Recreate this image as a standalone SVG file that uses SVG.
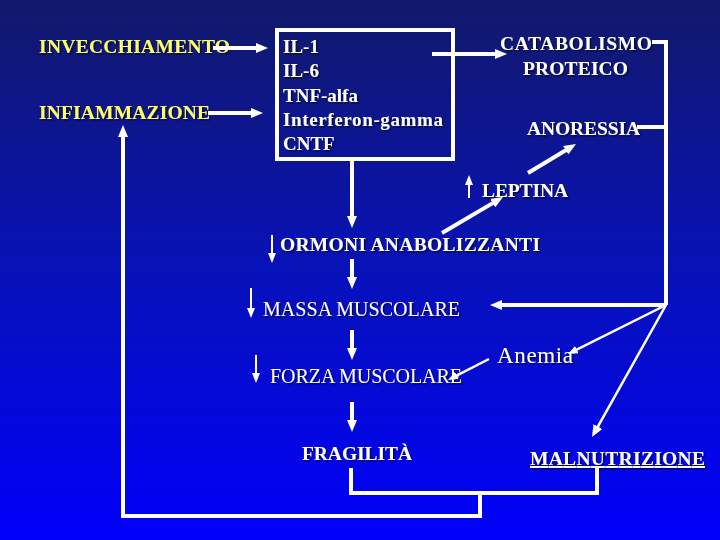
<svg xmlns="http://www.w3.org/2000/svg" width="720" height="540" viewBox="0 0 720 540">
<defs>
<linearGradient id="bg" x1="0" y1="0" x2="0" y2="1">
<stop offset="0" stop-color="#12196a"/>
<stop offset="0.5" stop-color="#0812b8"/>
<stop offset="1" stop-color="#0000fa"/>
</linearGradient>
<filter id="sh" x="-5%" y="-20%" width="110%" height="150%">
<feDropShadow dx="1.5" dy="1.5" stdDeviation="0.4" flood-color="#000" flood-opacity="0.55"/>
</filter>
<marker id="a" viewBox="0 0 12 10" refX="2" refY="5" markerWidth="12" markerHeight="10" orient="auto" markerUnits="userSpaceOnUse">
<path d="M0,0 L12,5 L0,10 z" fill="#fff"/>
</marker>
<marker id="b" viewBox="0 0 10 8" refX="2" refY="4" markerWidth="10" markerHeight="8" orient="auto" markerUnits="userSpaceOnUse">
<path d="M0,0 L10,4 L0,8 z" fill="#fff"/>
</marker>
</defs>
<style>
text{font-family:"Liberation Serif","Times New Roman",serif;fill:#fff;filter:url(#sh)}
.b{font-weight:bold;font-size:19.5px}
.r{font-size:20px}
.x{font-weight:bold;font-size:19px}
.y{fill:#ffff66}
.m{stroke:#fff;stroke-width:4;fill:none}
.t{stroke:#fff;stroke-width:2;fill:none}
.d{stroke:#fff;stroke-width:2.5;fill:none}
</style>
<rect width="720" height="540" fill="url(#bg)"/>
<g id="invecchiamento"><text class="b y" x="39" y="53" textLength="191">INVECCHIAMENTO</text></g>
<g id="infiammazione"><text class="b y" x="39" y="119" textLength="171">INFIAMMAZIONE</text></g>
<g id="citochine">
<rect x="277" y="30" width="176" height="129" fill="none" stroke="#fff" stroke-width="4"/>
<text class="x" x="283" y="53">IL-1</text>
<text class="x" x="283" y="77">IL-6</text>
<text class="x" x="283" y="101.5">TNF-alfa</text>
<text class="x" x="283" y="125.5" textLength="160">Interferon-gamma</text>
<text class="x" x="283" y="150">CNTF</text>
</g>
<g id="catabolismo">
<text class="b" x="500" y="50" textLength="152">CATABOLISMO</text>
<text class="b" x="523" y="75" textLength="105">PROTEICO</text>
</g>
<g id="anoressia"><text class="b" x="527" y="135" textLength="113">ANORESSIA</text></g>
<g id="leptina"><text class="b" x="482" y="197" textLength="86">LEPTINA</text></g>
<g id="ormoni"><text class="b" x="280" y="251" textLength="260">ORMONI ANABOLIZZANTI</text></g>
<g id="massa"><text class="r" x="263" y="316" textLength="197">MASSA MUSCOLARE</text></g>
<g id="anemia"><text x="497" y="363" font-size="23" textLength="76">Anemia</text></g>
<g id="forza"><text class="r" x="270" y="383" textLength="192">FORZA MUSCOLARE</text></g>
<g id="fragilita"><text class="b" x="302" y="460" textLength="110">FRAGILITÀ</text></g>
<g id="malnutrizione"><text class="b" x="530" y="465" textLength="175" text-decoration="underline">MALNUTRIZIONE</text></g>
<g id="connectors">
<line class="m" x1="213" y1="48" x2="258" y2="48" marker-end="url(#a)"/>
<line class="m" x1="208" y1="113" x2="253" y2="113" marker-end="url(#a)"/>
<line class="m" x1="432" y1="54" x2="497" y2="54" marker-end="url(#a)"/>
<line class="m" x1="352" y1="160" x2="352" y2="218" marker-end="url(#a)"/>
<line class="m" x1="352" y1="259" x2="352" y2="279" marker-end="url(#a)"/>
<line class="m" x1="352" y1="330" x2="352" y2="350" marker-end="url(#a)"/>
<line class="m" x1="352" y1="402" x2="352" y2="422" marker-end="url(#a)"/>
<polyline class="m" points="652,42 666,42 666,305"/>
<line class="m" x1="637" y1="127" x2="666" y2="127"/>
<line class="m" x1="666" y1="305" x2="500" y2="305" marker-end="url(#a)"/>
<line class="m" x1="528" y1="173" x2="567.4" y2="149.2" marker-end="url(#a)"/>
<line class="m" x1="442" y1="233" x2="494.4" y2="202.1" marker-end="url(#a)"/>
<line class="d" x1="666" y1="305" x2="596.9" y2="428.3" marker-end="url(#a)"/>
<line class="d" x1="666" y1="305" x2="575.2" y2="350.4" marker-end="url(#b)"/>
<line class="d" x1="489" y1="359" x2="455.1" y2="376.4" marker-end="url(#b)"/>
<line class="t" x1="469" y1="198" x2="469" y2="183" marker-end="url(#b)"/>
<line class="t" x1="272" y1="235" x2="272" y2="255" marker-end="url(#b)"/>
<line class="t" x1="251" y1="288" x2="251" y2="310" marker-end="url(#b)"/>
<line class="t" x1="256" y1="355" x2="256" y2="375" marker-end="url(#b)"/>
<polyline class="m" points="351,468 351,493 597,493 597,468"/>
<polyline class="m" points="480,493 480,516 123,516 123,135" marker-end="url(#a)"/>
</g>
</svg>
